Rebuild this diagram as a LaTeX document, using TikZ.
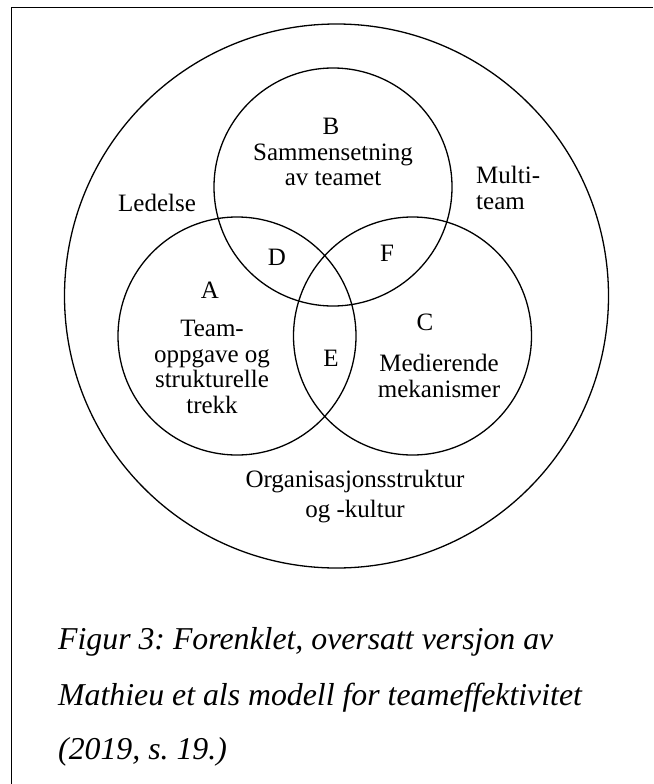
\documentclass[tikz,border=0pt]{standalone}
\usepackage{fontspec}
\setmainfont{Liberation Serif}
\frenchspacing
\begin{document}
\begin{tikzpicture}[x=1pt,y=-1pt,
  ring/.style={draw=black,line width=1.3pt},
  lbl/.style={font=\fontsize{25}{25.5}\selectfont,align=center,inner sep=0pt},
  captxt/.style={font=\fontsize{31.8}{31.8}\selectfont\itshape,anchor=west,inner sep=0pt}]
\useasboundingbox (0,0) rectangle (653,784);
% frame (top and left edges)
\coordinate (fa) at (11.5,784);
\coordinate (fb) at (11.5,7.8);
\coordinate (fc) at (653,7.8);
\draw[line width=1.4pt] (fa) -- (fb) -- (fc);
% circles
\node[ring,circle,minimum size=544pt,inner sep=0pt] (org) at (336.5,296) {};
\node[ring,circle,minimum size=238pt,inner sep=0pt] (cb) at (333,187) {};
\node[ring,circle,minimum size=238pt,inner sep=0pt] (ca) at (237,336) {};
\node[ring,circle,minimum size=238pt,inner sep=0pt] (cc) at (412.5,336) {};
% labels
\node[lbl] (lb) at (331,126) {B};
\node[lbl] (lbt) at (333,165) {Sammensetning\\av teamet};
\node[lbl] (ld) at (277,257) {D};
\node[lbl] (lf) at (387,253) {F};
\node[lbl] (la) at (210,290) {A};
\node[lbl] (lat) at (212,367) {Team-\\oppgave og\\strukturelle\\trekk};
\node[lbl] (le) at (331,358) {E};
\node[lbl] (lc) at (425,322) {C};
\node[lbl] (lct) at (439,376) {Medierende\\mekanismer};
\node[lbl] (lled) at (157,203) {Ledelse};
\node[lbl,align=left,anchor=west] (lmt) at (476,188) {Multi-\\team};
\node[lbl,font=\fontsize{25}{30}\selectfont] (lorg) at (355,497) {Organisasjonsstruktur\\og -kultur};
% caption
\node[captxt] (c1) at (58,642) {Figur 3: Forenklet, oversatt versjon av};
\node[captxt] (c2) at (58,698) {Mathieu et als modell for teameffektivitet};
\node[captxt] (c3) at (58,752) {(2019, s. 19.)};
\end{tikzpicture}
\end{document}
